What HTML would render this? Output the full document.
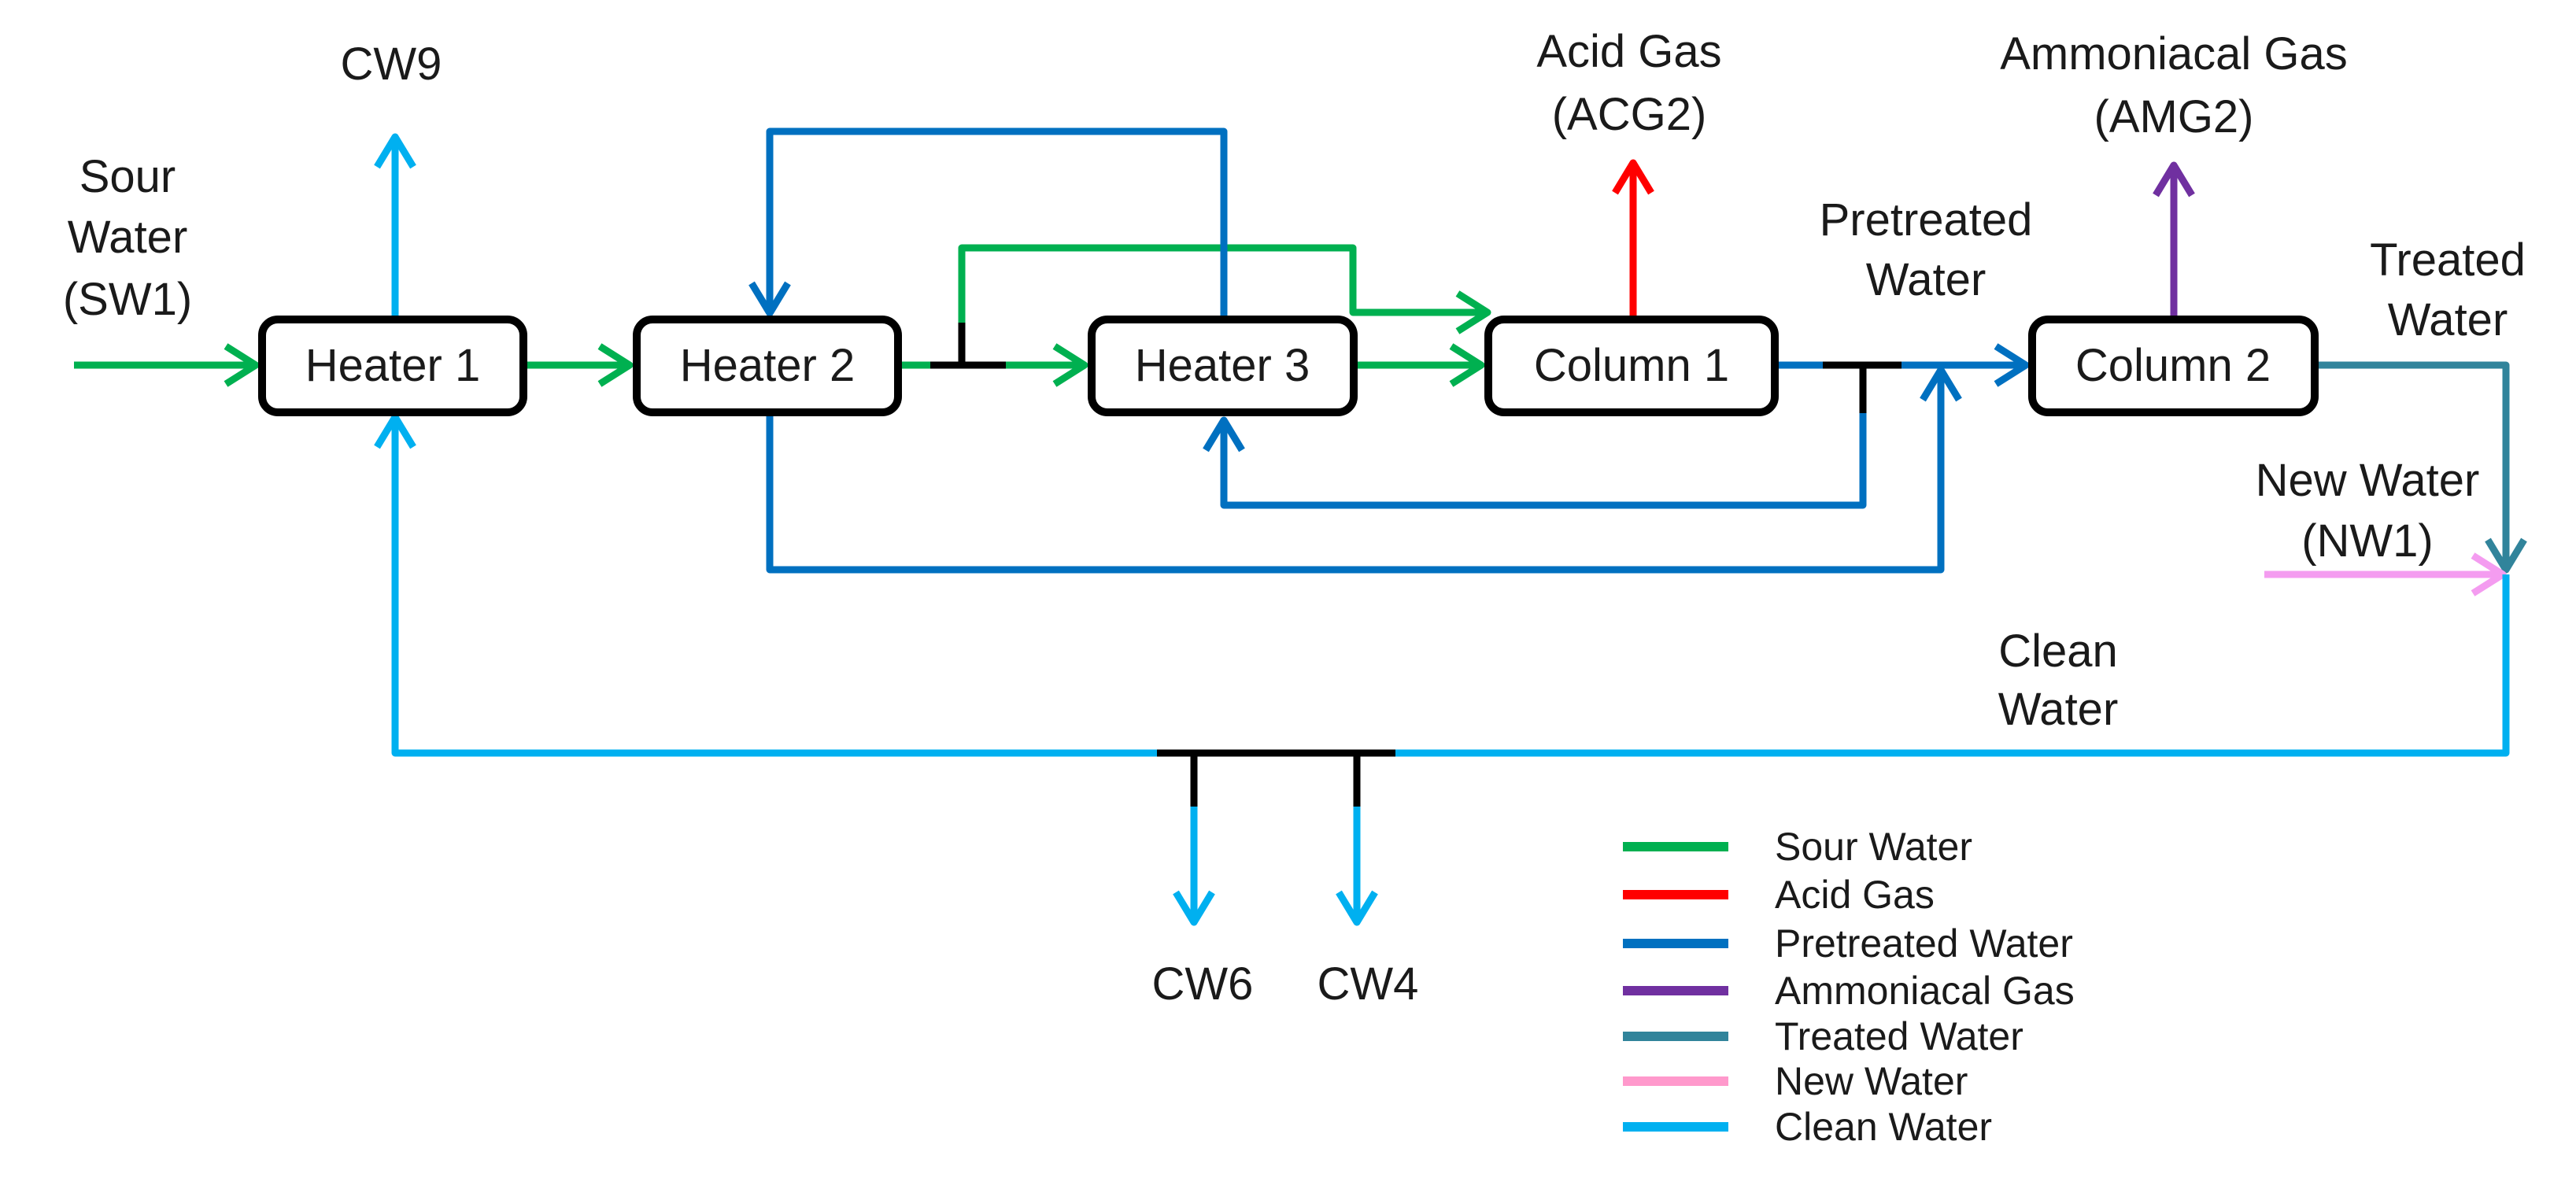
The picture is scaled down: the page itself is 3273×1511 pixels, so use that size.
<!DOCTYPE html>
<html><head><meta charset="utf-8"><style>
html,body{margin:0;padding:0;background:#fff;}
svg{display:block;}
text{font-family:"Liberation Sans",Arial,sans-serif;fill:#1a1a1a;}
</style></head><body>
<svg width="3273" height="1511" viewBox="0 0 3273 1511" xmlns="http://www.w3.org/2000/svg">
<g fill="none" stroke-width="9" stroke-linejoin="round" stroke-linecap="butt">
<!-- green -->
<g stroke="#00b050">
<line x1="94" y1="464" x2="325" y2="464"/><polyline points="287,440 325,464 287,488"/>
<line x1="669" y1="464" x2="800" y2="464"/><polyline points="762,440 800,464 762,488"/>
<line x1="1145" y1="464" x2="1182" y2="464"/>
<line x1="1278" y1="464" x2="1378" y2="464"/><polyline points="1340,440 1378,464 1340,488"/>
<line x1="1724" y1="464" x2="1882" y2="464"/><polyline points="1844,440 1882,464 1844,488"/>
<polyline points="1222,412 1222,315 1719,315 1719,397 1890,397"/><polyline points="1852,373 1890,397 1852,421"/>
</g>
<!-- red -->
<g stroke="#ff0000"><line x1="2075" y1="402" x2="2075" y2="208"/><polyline points="2052,245 2075,207 2098,245"/></g>
<!-- purple -->
<g stroke="#7030a0"><line x1="2762" y1="402" x2="2762" y2="210"/><polyline points="2739,248 2762,210 2785,248"/></g>
<!-- pretreated blue -->
<g stroke="#0070c0">
<polyline points="1555,402 1555,167 978,167 978,398"/><polyline points="955,360 978,398 1001,360"/>
<line x1="2259" y1="464" x2="2316" y2="464"/>
<line x1="2416" y1="464" x2="2574" y2="464"/><polyline points="2536,440 2574,464 2536,488"/>
<polyline points="2367,523 2367,642 1555,642 1555,534"/><polyline points="1532,572 1555,534 1578,572"/>
<polyline points="978,524 978,724 2466,724 2466,470"/><polyline points="2443,508 2466,470 2489,508"/>
</g>
<!-- teal -->
<g stroke="#31849b"><polyline points="2945,464 3184,464 3184,724"/><polyline points="3161,686 3184,724 3207,686"/></g>
<!-- pink -->
<g stroke="#f49cf0"><line x1="2877" y1="730" x2="3180" y2="730"/><polyline points="3142,706 3180,730 3142,754"/></g>
<!-- clean -->
<g stroke="#00b0f0">
<line x1="502" y1="402" x2="502" y2="174"/><polyline points="479,212 502,174 525,212"/>
<polyline points="3184,730 3184,957 502,957 502,530"/><polyline points="479,568 502,530 525,568"/>
<line x1="1517" y1="1023" x2="1517" y2="1172"/><polyline points="1494,1134 1517,1172 1540,1134"/>
<line x1="1724" y1="1023" x2="1724" y2="1172"/><polyline points="1701,1134 1724,1172 1747,1134"/>
</g>
<!-- black junctions -->
<g stroke="#000">
<line x1="1182" y1="464" x2="1278" y2="464"/><line x1="1222" y1="464" x2="1222" y2="410"/>
<line x1="2316" y1="464" x2="2416" y2="464"/><line x1="2367" y1="464" x2="2367" y2="525"/>
<line x1="1470" y1="957" x2="1773" y2="957"/>
<line x1="1517" y1="957" x2="1517" y2="1025"/><line x1="1724" y1="957" x2="1724" y2="1025"/>
</g>
<!-- boxes -->
<g stroke="#000" stroke-width="10" fill="#fff">
<rect x="333" y="406" width="332" height="118" rx="20"/>
<rect x="809" y="406" width="332" height="118" rx="20"/>
<rect x="1387" y="406" width="333" height="118" rx="20"/>
<rect x="1891" y="406" width="364" height="118" rx="20"/>
<rect x="2582" y="406" width="359" height="118" rx="20"/>
</g>
<!-- legend -->
<g stroke-width="12">
<line x1="2062" y1="1076" x2="2196" y2="1076" stroke="#00b050"/>
<line x1="2062" y1="1137" x2="2196" y2="1137" stroke="#ff0000"/>
<line x1="2062" y1="1199" x2="2196" y2="1199" stroke="#0070c0"/>
<line x1="2062" y1="1259" x2="2196" y2="1259" stroke="#7030a0"/>
<line x1="2062" y1="1317" x2="2196" y2="1317" stroke="#31849b"/>
<line x1="2062" y1="1374" x2="2196" y2="1374" stroke="#ff99cc"/>
<line x1="2062" y1="1432" x2="2196" y2="1432" stroke="#00b0f0"/>
</g>
</g>
<g font-size="58" text-anchor="middle">
<text x="499" y="484">Heater 1</text>
<text x="975" y="484">Heater 2</text>
<text x="1553" y="484">Heater 3</text>
<text x="2073" y="484">Column 1</text>
<text x="2761" y="484">Column 2</text>
<text x="497" y="101">CW9</text>
<text x="162" y="244">Sour</text><text x="162" y="321">Water</text><text x="162" y="400">(SW1)</text>
<text x="2070" y="85">Acid Gas</text><text x="2070" y="165">(ACG2)</text>
<text x="2762" y="88">Ammoniacal Gas</text><text x="2762" y="168">(AMG2)</text>
<text x="2447" y="299">Pretreated</text><text x="2447" y="375">Water</text>
<text x="3110" y="350">Treated</text><text x="3110" y="426">Water</text>
<text x="3008" y="630">New Water</text><text x="3008" y="707">(NW1)</text>
<text x="2615" y="847">Clean</text><text x="2615" y="921">Water</text>
<text x="1528" y="1270">CW6</text><text x="1738" y="1270">CW4</text>
</g>
<g font-size="50">
<text x="2255" y="1093">Sour Water</text>
<text x="2255" y="1154">Acid Gas</text>
<text x="2255" y="1216">Pretreated Water</text>
<text x="2255" y="1276">Ammoniacal Gas</text>
<text x="2255" y="1334">Treated Water</text>
<text x="2255" y="1391">New Water</text>
<text x="2255" y="1449">Clean Water</text>
</g>
</svg>
</body></html>
